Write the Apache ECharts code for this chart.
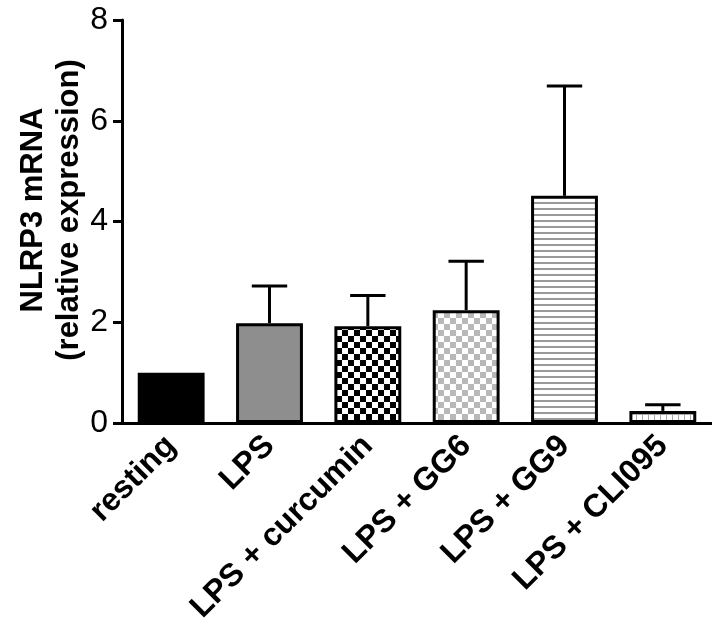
<!DOCTYPE html>
<html>
<head>
<meta charset="utf-8">
<script src="https://cdn.jsdelivr.net/npm/echarts@6/dist/echarts.min.js"></script>
<style>
  html, body { margin: 0; padding: 0; background: #fff; }
  #chart { width: 712px; height: 637px; }
</style>
</head>
<body>
<div id="chart"></div>
<script>
const categories = ['resting', 'LPS', 'LPS + curcumin', 'LPS + GG6', 'LPS + GG9', 'LPS + CLI095']
const means = [1.0, 1.98, 1.92, 2.24, 4.51, 0.24]
const errors = [0, 0.74, 0.61, 0.97, 2.18, 0.12]
const yTicks = [0, 2, 4, 6, 8]
const yTitle = 'NLRP3 mRNA\n(relative expression)'

// small canvas tiles used as bar fills
function tile(size, draw) {
  const c = document.createElement('canvas')
  c.width = size
  c.height = size
  const ctx = c.getContext('2d')
  draw(ctx, size)
  return { image: c, repeat: 'repeat' }
}

function checker(dark) {
  return tile(12, (ctx) => {
    ctx.fillStyle = '#fff'
    ctx.fillRect(0, 0, 12, 12)
    ctx.fillStyle = dark
    ctx.fillRect(0, 0, 6, 6)
    ctx.fillRect(6, 6, 6, 6)
  })
}

const stripes = tile(6, (ctx) => {
  ctx.fillStyle = '#fff'
  ctx.fillRect(0, 0, 6, 6)
  ctx.fillStyle = '#9a9a9a'
  ctx.fillRect(0, 4, 6, 2)
})

const mesh = tile(6, (ctx) => {
  ctx.fillStyle = '#fff'
  ctx.fillRect(0, 0, 6, 6)
  ctx.fillStyle = '#a8a8a8'
  ctx.fillRect(0, 0, 6, 1)
  ctx.fillRect(0, 0, 1, 6)
})

const fills = ['#000', '#8e8e8e', checker('#000'), checker('#b8b8b8'), stripes, mesh]

const chart = echarts.init(document.getElementById('chart'), null, { renderer: 'canvas' })

chart.setOption({
  animation: false,
  grid: {
    left: 122,
    top: 20,
    width: 602,
    height: 403
  },
  graphic: [{
    type: 'text',
    x: 51,
    y: 210,
    rotation: Math.PI / 2,
    style: {
      text: yTitle,
      fill: '#000',
      font: 'bold 31px "Liberation Sans"',
      lineHeight: 36,
      align: 'center',
      verticalAlign: 'middle'
    }
  }],
  xAxis: {
    type: 'category',
    data: categories,
    axisLine: { lineStyle: { color: '#000', width: 3 } },
    axisTick: { alignWithLabel: true, length: 9, lineStyle: { color: '#000', width: 3 } },
    axisLabel: {
      interval: 0,
      rotate: 45,
      margin: 18,
      color: '#000',
      fontFamily: 'Liberation Sans',
      fontWeight: 'bold',
      fontSize: 32
    }
  },
  yAxis: {
    type: 'value',
    min: yTicks[0],
    max: yTicks[yTicks.length - 1],
    interval: 2,
    splitLine: { show: false },
    axisLine: { show: true, lineStyle: { color: '#000', width: 3 } },
    axisTick: { show: true, length: 9, lineStyle: { color: '#000', width: 3 } },
    axisLabel: {
      margin: 14,
      color: '#000',
      fontFamily: 'Liberation Sans',
      fontSize: 32
    }
  },
  series: [
    {
      type: 'bar',
      barWidth: '68%',
      data: means.map((v, i) => ({
        value: v,
        itemStyle: { color: fills[i] }
      })),
      itemStyle: { borderColor: '#000', borderWidth: 3 },
      z: 2
    },
    {
      type: 'custom',
      data: means.map((v, i) => [i, v, v + errors[i]]),
      z: 3,
      renderItem(params, api) {
        if (api.value(2) <= api.value(1)) return
        const lo = api.coord([api.value(0), api.value(1)])
        const hi = api.coord([api.value(0), api.value(2)])
        const half = api.size([1, 0])[0] * 0.18
        const style = { stroke: '#000', lineWidth: 3 }
        return {
          type: 'group',
          children: [
            { type: 'line', shape: { x1: lo[0], y1: lo[1], x2: hi[0], y2: hi[1] }, style },
            { type: 'line', shape: { x1: hi[0] - half, y1: hi[1], x2: hi[0] + half, y2: hi[1] }, style }
          ]
        }
      }
    }
  ]
})
</script>
</body>
</html>
